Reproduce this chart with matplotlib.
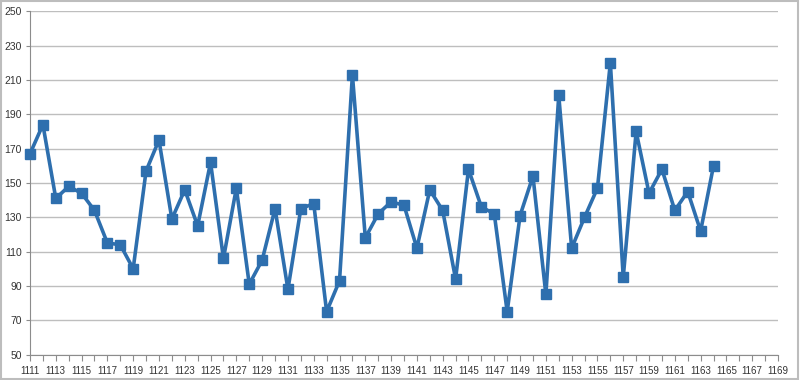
import matplotlib.pyplot as plt
from matplotlib.patches import Rectangle

# categories 1111..1169, values only up to 1164
categories = list(range(1111, 1170))
values = [167, 184, 141, 148, 144, 134, 115, 114, 100, 157,
          175, 129, 146, 125, 162, 106, 147, 91, 105, 135,
          88, 135, 138, 75, 93, 213, 118, 132, 139, 137,
          112, 146, 134, 94, 158, 136, 132, 75, 131, 154,
          85, 201, 112, 130, 147, 220, 95, 180, 144, 158,
          134, 145, 122, 160]
y_ticks = list(range(50, 251, 20))

line_color = '#2E6FAE'
grid_color = '#BEBEBE'

plt.rcParams['font.family'] = ['Liberation Sans', 'DejaVu Sans']

fig = plt.figure(figsize=(8, 3.8), dpi=100)
ax = fig.add_axes([0.0375, 0.067, 0.935, 0.903])

x = categories[:len(values)]
ax.plot(x, values, color=line_color, linewidth=2.6, marker='s',
        markersize=7.5, markerfacecolor=line_color, markeredgecolor=line_color,
        clip_on=False, zorder=3)

ax.set_xlim(categories[0], categories[-1])
ax.set_ylim(50, 250)
ax.set_yticks(y_ticks)
ax.set_xticks(categories)
ax.set_xticklabels([str(c) if (c - 1111) % 2 == 0 else '' for c in categories])

ax.grid(axis='y', color=grid_color, linewidth=1.0)
ax.set_axisbelow(True)
for side in ['top', 'right']:
    ax.spines[side].set_visible(False)
ax.spines['left'].set_color('#8C8C8C')
ax.spines['bottom'].set_color('#8C8C8C')
ax.tick_params(axis='x', direction='out', length=4, color='#8C8C8C',
               labelsize=7, labelcolor='#333333', pad=4)
ax.tick_params(axis='y', direction='out', length=3, color='#8C8C8C',
               labelsize=7.5, labelcolor='#333333', pad=3)

# light border around the whole chart
fig.patches.append(Rectangle((0.001, 0.002), 0.996, 0.995, transform=fig.transFigure,
                             fill=False, edgecolor='#BDBDBD', linewidth=1.5))

plt.savefig('out.png', dpi=100)
